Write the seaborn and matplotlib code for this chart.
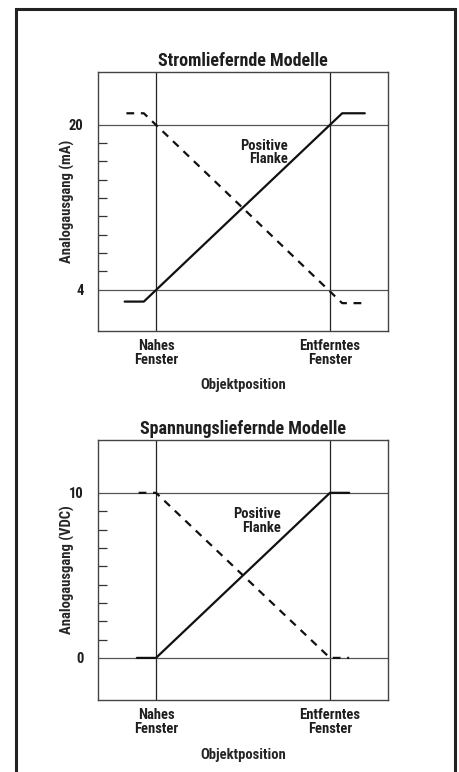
import pandas as pd
import seaborn as sns
import matplotlib.pyplot as plt
from matplotlib.patches import Rectangle

# x positions: 0 = near window, 1 = far window
x_ticks = [0, 1]
x_ticklabels = ["Nahes\nFenster", "Entferntes\nFenster"]

# current output models (mA)
ma_title = "Stromliefernde Modelle"
ma_ylabel = "Analogausgang (mA)"
ma_major = [4, 20]
ma_pos_x = [-0.18, -0.07, 1.07, 1.2]
ma_pos_y = [2.85, 2.85, 21.1, 21.1]
ma_neg_x = [-0.17, -0.07, 1.07, 1.2]
ma_neg_y = [21.1, 21.1, 2.7, 2.7]

# voltage output models (VDC)
v_title = "Spannungsliefernde Modelle"
v_ylabel = "Analogausgang (VDC)"
v_major = [0, 10]
v_pos_x = [-0.11, 0, 1, 1.11]
v_pos_y = [0, 0, 10, 10]
v_neg_x = [-0.1, 0, 1, 1.11]
v_neg_y = [10, 10, 0, 0]

sns.set_style("white")
plt.rcParams["font.family"] = ["Roboto Condensed", "Barlow Semi Condensed", "DejaVu Sans"]
plt.rcParams["font.weight"] = "bold"
plt.rcParams["text.color"] = "#1e1e1e"

fig = plt.figure(figsize=(4.59, 7.72), dpi=100)
W, H = 459, 772


def panel(rect, title, ylabel, major, ylim, pos_x, pos_y, neg_x, neg_y, text_xy):
    ax = fig.add_axes(rect)
    ax.set_xlim(-1 / 3, 4 / 3)
    ax.set_ylim(*ylim)
    # window lines and major levels
    for xv in x_ticks:
        ax.axvline(xv, color="#222222", lw=0.9, zorder=1)
    for yv in major:
        ax.axhline(yv, color="#555555", lw=0.9, zorder=1)
    pos = pd.DataFrame({"x": pos_x, "y": pos_y})
    neg = pd.DataFrame({"x": neg_x, "y": neg_y})
    sns.lineplot(data=pos, x="x", y="y", sort=False, color="#111111", lw=1.6, ax=ax, zorder=3)
    sns.lineplot(data=neg, x="x", y="y", sort=False, color="#111111", lw=1.6,
                 ls=(0, (3.5, 3)), ax=ax, zorder=3)
    ax.text(text_xy[0], text_xy[1], "Positive\nFlanke", ha="right", va="center",
            fontsize=10.5, fontweight="bold", linespacing=0.95)

    ax.set_xticks(x_ticks)
    ax.set_xticklabels(x_ticklabels, fontsize=10.5, fontweight="bold", linespacing=1.0,
                       color="#1e1e1e")
    ax.set_yticks(major)
    ax.set_yticklabels([str(v) for v in major], fontsize=10.5, fontweight="bold",
                       color="#1e1e1e")
    # minor tick marks between the two levels
    lo, hi = major
    ax.set_yticks([lo + (hi - lo) * i / 9 for i in range(1, 9)], minor=True)
    ax.tick_params(axis="y", which="minor", direction="in", length=6.5, width=0.9,
                   color="#333333", left=True)
    ax.tick_params(axis="y", which="major", length=0, pad=10.5)
    ax.tick_params(axis="x", which="major", length=0, pad=6)
    ax.set_xlabel("Objektposition", fontsize=10.5, fontweight="bold", va="top")
    ax.xaxis.set_label_coords(0.5, -0.183)
    ax.set_ylabel(ylabel, fontsize=10.5, fontweight="bold")
    ax.yaxis.set_label_coords(-0.08, 0.5)
    ax.set_title(title, fontsize=13, fontweight="bold", pad=4)
    for sp in ax.spines.values():
        sp.set_color("#444444")
        sp.set_linewidth(1.0)
    return ax


panel([98 / W, 1 - 331 / H, 290 / W, 259 / H], ma_title, ma_ylabel, ma_major,
      (0, 25.1), ma_pos_x, ma_pos_y, ma_neg_x, ma_neg_y, (0.76, 17.3))
panel([98 / W, 1 - 700 / H, 290 / W, 260 / H], v_title, v_ylabel, v_major,
      (-2.55, 13.2), v_pos_x, v_pos_y, v_neg_x, v_neg_y, (0.72, 8.3))

# outer frame, open at the bottom
fig.patches.append(Rectangle((16 / W, -0.05), 439 / W, 1.05 - 9 / H, transform=fig.transFigure,
                             fill=False, lw=2.2, edgecolor="#222222"))

fig.savefig("out.png", dpi=100)
